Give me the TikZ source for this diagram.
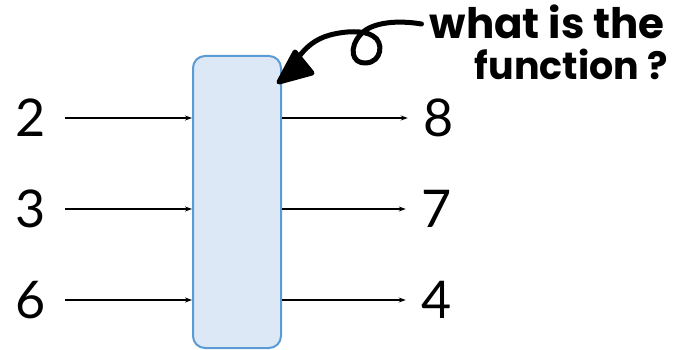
\documentclass[tikz,border=0pt]{standalone}
\usepackage{fontspec}
\setmainfont{Lato}
\newfontfamily\handfont{Poppins}
\usetikzlibrary{arrows.meta}
\definecolor{boxfill}{HTML}{DCE8F5}
\definecolor{boxline}{HTML}{5B9BD5}
\begin{document}
\begin{tikzpicture}[x=1pt,y=-1pt,
  num/.style={font=\fontsize{52}{52}\selectfont, inner sep=0pt, anchor=center},
  flow/.style={line width=1.4pt, -{Stealth[length=7pt,width=5pt]}},
  fbox/.style={draw=boxline, fill=boxfill, line width=2pt, rounded corners=12pt,
    minimum width=88pt, minimum height=292pt, inner sep=0pt},
  hand/.style={font=\handfont\bfseries, inner sep=0pt, anchor=east},
  curl/.style={line width=5pt, line cap=round, line join=round}]
  \useasboundingbox (0,0) rectangle (675,350);

  % the unknown function box
  \node[fbox] (box) at (237,202) {};

  % inputs
  \node[num] (i2) at (31,118) {2};
  \node[num] (i3) at (31,209) {3};
  \node[num] (i6) at (31,300) {6};
  % outputs
  \node[num] (o8) at (439,118) {8};
  \node[num] (o7) at (437,209) {7};
  \node[num] (o4) at (437,300) {4};

  \foreach \n in {i2,i3,i6}
    \draw[flow, shorten <=19pt] (\n.east) -- (\n.east -| box.west);
  \foreach \n in {o8,o7,o4}
    \draw[flow, shorten >=16pt] (\n.west -| box.east) -- (\n.west);

  % the question
  \node[hand, font=\handfont\bfseries\fontsize{42}{42}\selectfont] (q1) at (665,22) {what is the};
  \node[hand, font=\handfont\bfseries\fontsize{38}{38}\selectfont] (q2) at (668,64) {function ?};

  % curly pointer from the question to the box
  \coordinate (tip) at ([shift={(-3,27)}]box.north east);
  \draw[curl] ([shift={(-8,2)}]q1.west)
    .. controls (398,20) and (372,22) .. (361,34)
    .. controls (348,48) and (352,64) .. (366,63)
    .. controls (382,62) and (384,42) .. (373,36)
    .. controls (364,30) and (345,31) .. (330,35)
    .. controls (315,39) and (305,48) .. (298,58);
  \filldraw[curl] (tip) -- (295,52) -- (312,73) -- cycle;
\end{tikzpicture}
\end{document}
